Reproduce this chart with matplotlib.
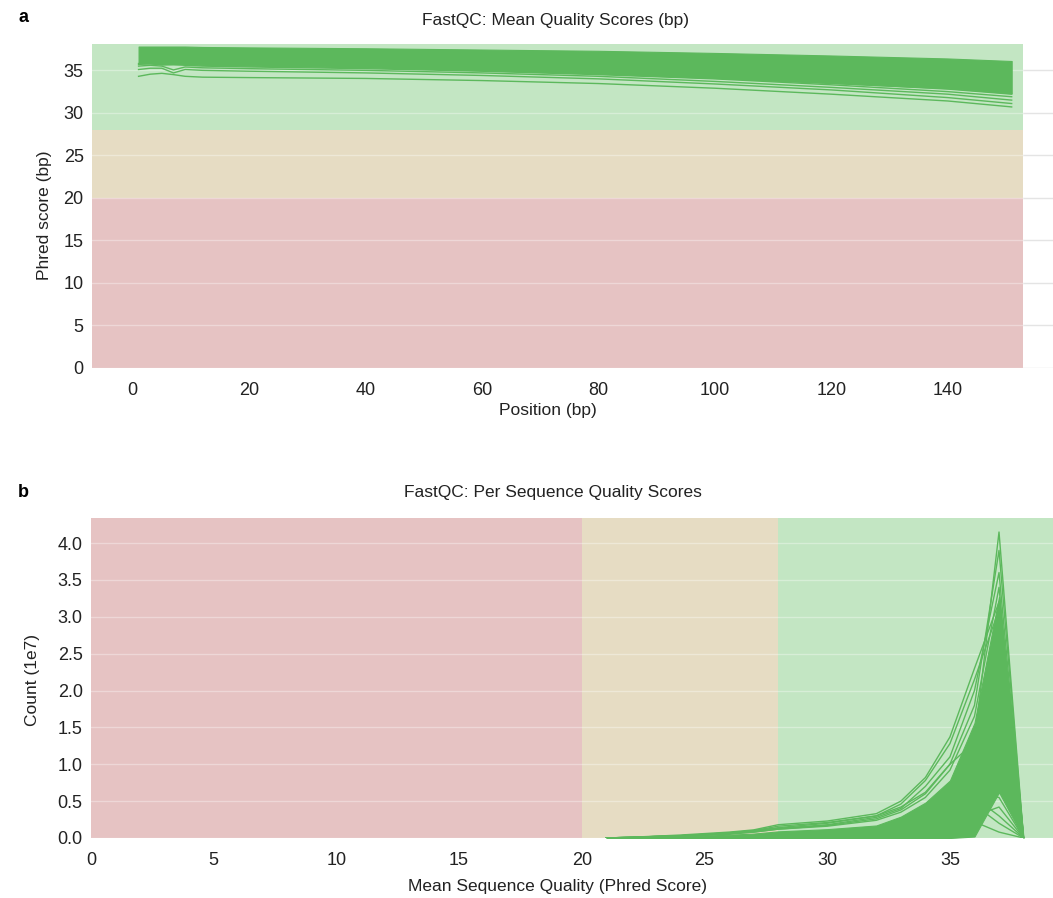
import matplotlib
matplotlib.use("Agg")
import matplotlib.pyplot as plt

plt.rcParams['font.family'] = ['Liberation Sans', 'DejaVu Sans']

# ---------------- Panel a data: mean quality per position ----------------
positions = [1, 3, 5, 7, 9, 12, 20, 40, 60, 80, 100, 120, 140, 151]
dense_upper_a = [37.8, 37.8, 37.8, 37.8, 37.8, 37.75, 37.7, 37.6, 37.45, 37.3, 37.05, 36.75, 36.4, 36.1]
dense_lower_a = [35.8, 35.8, 35.7, 35.7, 35.7, 35.7, 35.6, 35.4, 35.0, 34.6, 34.1, 33.5, 32.9, 32.3]
sample_a1 = [34.3, 34.55, 34.65, 34.5, 34.3, 34.2, 34.15, 34.05, 33.8, 33.45, 32.9, 32.2, 31.4, 30.7]
sample_a2 = [35.1, 35.25, 35.25, 34.7, 35.1, 35.0, 34.9, 34.7, 34.4, 34.0, 33.4, 32.7, 31.8, 31.1]
sample_a3 = [35.5, 35.6, 35.5, 35.05, 35.4, 35.3, 35.2, 35.0, 34.7, 34.3, 33.7, 33.0, 32.2, 31.5]
sample_a4 = [35.7, 35.8, 35.65, 35.7, 35.6, 35.5, 35.4, 35.2, 34.9, 34.5, 34.0, 33.3, 32.5, 31.9]
sample_a5 = [35.8, 35.9, 35.8, 35.8, 35.7, 35.6, 35.5, 35.3, 35.0, 34.6, 34.1, 33.5, 32.8, 32.2]
samples_a = [sample_a1, sample_a2, sample_a3, sample_a4, sample_a5]
xticks_a = [0, 20, 40, 60, 80, 100, 120, 140]
yticks_a = [0, 5, 10, 15, 20, 25, 30, 35]

# ---------------- Panel b data: per sequence quality ----------------
quality = [21, 22, 24, 26, 27, 28, 30, 32, 33, 34, 35, 36, 37, 38]
dense_upper_b = [0, 0.005, 0.02, 0.045, 0.06, 0.09, 0.12, 0.17, 0.29, 0.48, 0.78, 1.56, 3.27, 0]
dense_lower_b = [0, 0, 0, 0, 0, 0, 0, 0, 0, 0, 0, 0.02, 0.62, 0]
sample_b1 = [0, 0.01, 0.03, 0.07, 0.10, 0.14, 0.20, 0.30, 0.42, 0.62, 1.00, 1.30, 4.15, 0]
sample_b2 = [0, 0.01, 0.04, 0.08, 0.11, 0.18, 0.23, 0.33, 0.50, 0.82, 1.37, 2.30, 3.20, 0]
sample_b3 = [0, 0.01, 0.03, 0.07, 0.10, 0.16, 0.21, 0.30, 0.46, 0.78, 1.28, 2.15, 3.10, 0]
sample_b4 = [0, 0.01, 0.03, 0.06, 0.09, 0.13, 0.18, 0.28, 0.40, 0.70, 1.10, 2.00, 3.60, 0]
sample_b5 = [0, 0.00, 0.02, 0.05, 0.08, 0.12, 0.17, 0.26, 0.38, 0.60, 1.00, 1.80, 3.90, 0]
sample_b6 = [0, 0, 0, 0.01, 0.01, 0.02, 0.04, 0.08, 0.12, 0.20, 0.35, 0.60, 0.55, 0]
sample_b7 = [0, 0, 0, 0.01, 0.02, 0.03, 0.05, 0.09, 0.14, 0.22, 0.40, 0.55, 0.30, 0]
sample_b8 = [0, 0, 0, 0.00, 0.01, 0.02, 0.03, 0.06, 0.10, 0.16, 0.28, 0.45, 0.20, 0]
sample_b9 = [0, 0, 0, 0.00, 0.00, 0.01, 0.02, 0.04, 0.06, 0.10, 0.18, 0.30, 0.42, 0]
sample_b10 = [0, 0, 0, 0.00, 0.00, 0.01, 0.02, 0.03, 0.05, 0.08, 0.12, 0.22, 0.08, 0]
sample_b11 = [0, 0.01, 0.03, 0.06, 0.08, 0.12, 0.16, 0.24, 0.35, 0.55, 0.92, 1.65, 3.40, 0]
samples_b = [sample_b1, sample_b2, sample_b3, sample_b4, sample_b5,
             sample_b6, sample_b7, sample_b8, sample_b9, sample_b10, sample_b11]
xticks_b = [0, 5, 10, 15, 20, 25, 30, 35]
yticks_b = [0.0, 0.5, 1.0, 1.5, 2.0, 2.5, 3.0, 3.5, 4.0]

GREEN_LINE = '#5cb85c'
BAND_GOOD = '#c3e6c3'
BAND_WARN = '#e6dcc3'
BAND_FAIL = '#e6c3c3'

W, H = 1053, 898
fig = plt.figure(figsize=(W / 100, H / 100), dpi=100)


def ax_at(left, top, right, bottom):
    return fig.add_axes([left / W, 1 - bottom / H, (right - left) / W, (bottom - top) / H])


def clean(ax):
    for s in ax.spines.values():
        s.set_visible(False)
    ax.tick_params(length=0, labelsize=13, colors='#222222')


# ---------------- Panel a ----------------
axa = ax_at(92, 44, 1053, 368)
clean(axa)
xa0, xa1, band_end = -7, 158.1, 153
axa.set_xlim(xa0, xa1)
axa.set_ylim(0, 38.1)
for y in yticks_a:
    axa.plot([xa0, xa1], [y, y], color='#e4e4e4', lw=1, zorder=0.5)
axa.fill_between([xa0, band_end], 28, 38.1, color=BAND_GOOD, lw=0, zorder=1)
axa.fill_between([xa0, band_end], 20, 28, color=BAND_WARN, lw=0, zorder=1)
axa.fill_between([xa0, band_end], 0, 20, color=BAND_FAIL, lw=0, zorder=1)
for y in yticks_a:
    axa.plot([xa0, band_end], [y, y], color='white', alpha=0.35, lw=1, zorder=1.5)
axa.fill_between(positions, dense_lower_a, dense_upper_a, color=GREEN_LINE, lw=0.8,
                 edgecolor=GREEN_LINE, zorder=2)
for s in samples_a:
    axa.plot(positions, s, color=GREEN_LINE, lw=1, zorder=3)
axa.set_xticks(xticks_a)
axa.set_yticks(yticks_a)
axa.tick_params(axis='x', pad=10)
axa.tick_params(axis='y', pad=6)

# ---------------- Panel b ----------------
axb = ax_at(91, 518, 1053, 838)
clean(axb)
xb1 = 39.2
axb.set_xlim(0, xb1)
axb.set_ylim(0, 4.34)
axb.fill_between([0, 20], 0, 4.34, color=BAND_FAIL, lw=0, zorder=1)
axb.fill_between([20, 28], 0, 4.34, color=BAND_WARN, lw=0, zorder=1)
axb.fill_between([28, xb1], 0, 4.34, color=BAND_GOOD, lw=0, zorder=1)
for y in yticks_b:
    axb.plot([0, xb1], [y, y], color='white', alpha=0.35, lw=1, zorder=1.5)
axb.fill_between(quality, dense_lower_b, dense_upper_b, color=GREEN_LINE, lw=0.8,
                 edgecolor=GREEN_LINE, zorder=2)
for s in samples_b:
    axb.plot(quality, s, color=GREEN_LINE, lw=1, zorder=3)
axb.set_xticks(xticks_b)
axb.set_yticks(yticks_b)
axb.set_yticklabels([f'{v:.1f}' for v in yticks_b])
axb.tick_params(axis='x', pad=10)
axb.tick_params(axis='y', pad=6)

# ---------------- Texts ----------------
def ftext(x, y, s, **kw):
    fig.text(x / W, 1 - y / H, s, **kw)

ftext(18, 18, 'a', fontsize=13, fontweight='bold', ha='left', va='center')
ftext(18, 492, 'b', fontsize=13, fontweight='bold', ha='left', va='center')
ftext(555, 20, 'FastQC: Mean Quality Scores (bp)', fontsize=12.5, ha='center', va='center', color='#222222')
ftext(553, 493, 'FastQC: Per Sequence Quality Scores', fontsize=12.5, ha='center', va='center', color='#222222')
ftext(548, 410, 'Position (bp)', fontsize=12.5, ha='center', va='center', color='#222222')
ftext(557, 886, 'Mean Sequence Quality (Phred Score)', fontsize=12.5, ha='center', va='center', color='#222222')
ftext(44, 215, 'Phred score (bp)', fontsize=12.5, ha='center', va='center', rotation=90, color='#222222')
ftext(32, 680, 'Count (1e7)', fontsize=12.5, ha='center', va='center', rotation=90, color='#222222')

fig.savefig('out.png', dpi=100)
